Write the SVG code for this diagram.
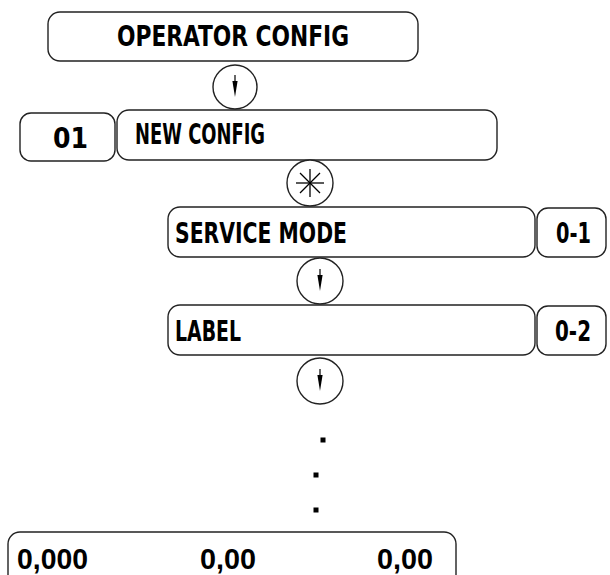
<svg xmlns="http://www.w3.org/2000/svg" width="610" height="575" viewBox="0 0 610 575">
<style>
.box{fill:#fff;stroke:#222;stroke-width:1.4}
.t{font-family:"Liberation Sans Narrow","DejaVu Sans Condensed","DejaVu Sans",sans-serif;font-stretch:condensed;font-weight:bold;font-size:28px;fill:#000}
.n{font-family:"Liberation Sans","Arial",sans-serif;font-weight:bold;font-size:30px;fill:#000}
.c{fill:#fff;stroke:#222;stroke-width:1.4}
.ast{stroke:#000;stroke-width:1.3}
</style>
<defs>
<g id="arrow">
<line x1="0" y1="-12" x2="0" y2="-5" stroke="#000" stroke-width="1.2"/>
<polygon points="-2.6,-6 2.6,-6 0,10" fill="#000"/>
</g>
</defs>
<g id="operator-config">
<rect class="box" x="48" y="12" width="370" height="49" rx="12"/>
<text class="t" x="117" y="46" textLength="232" lengthAdjust="spacingAndGlyphs">OPERATOR CONFIG</text>
</g>
<g id="num-01">
<rect class="box" x="20" y="113" width="95" height="48" rx="11"/>
<text class="t" x="53" y="148" textLength="35" lengthAdjust="spacingAndGlyphs">01</text>
</g>
<g id="new-config">
<rect class="box" x="117" y="110" width="380" height="50" rx="12"/>
<text class="t" x="135" y="144" textLength="130" lengthAdjust="spacingAndGlyphs">NEW CONFIG</text>
</g>
<g id="service-mode">
<rect class="box" x="168" y="207" width="367" height="50" rx="12"/>
<text class="t" x="175" y="243" textLength="172" lengthAdjust="spacingAndGlyphs">SERVICE MODE</text>
</g>
<g id="code-0-1">
<rect class="box" x="537" y="208" width="69" height="49" rx="11"/>
<text class="t" x="556" y="243" textLength="35" lengthAdjust="spacingAndGlyphs">0-1</text>
</g>
<g id="label">
<rect class="box" x="168" y="305" width="367" height="50" rx="12"/>
<text class="t" x="175" y="341" textLength="66" lengthAdjust="spacingAndGlyphs">LABEL</text>
</g>
<g id="code-0-2">
<rect class="box" x="537" y="306" width="69" height="49" rx="11"/>
<text class="t" x="555" y="341" textLength="36" lengthAdjust="spacingAndGlyphs">0-2</text>
</g>
<g id="display">
<rect class="box" x="8" y="532" width="448" height="70" rx="12"/>
<text class="n" x="17" y="569" textLength="71" lengthAdjust="spacingAndGlyphs">0,000</text>
<text class="n" x="200" y="569" textLength="56" lengthAdjust="spacingAndGlyphs">0,00</text>
<text class="n" x="377" y="569" textLength="56" lengthAdjust="spacingAndGlyphs">0,00</text>
</g>
<g id="connectors">
<circle class="c" cx="235" cy="87" r="22"/>
<use href="#arrow" x="235" y="87"/>
<circle class="c" cx="310" cy="183" r="23"/>
<g class="ast">
<line x1="310" y1="169" x2="310" y2="197"/>
<line x1="296" y1="183" x2="324" y2="183"/>
<line x1="300" y1="173" x2="320" y2="193"/>
<line x1="300" y1="193" x2="320" y2="173"/>
</g>
<circle class="c" cx="320" cy="281" r="23"/>
<use href="#arrow" x="320" y="281"/>
<circle class="c" cx="320" cy="381" r="23"/>
<use href="#arrow" x="320" y="381"/>
<rect x="320.5" y="437.5" width="5" height="5" fill="#000"/>
<rect x="313.5" y="472.5" width="5" height="5" fill="#000"/>
<rect x="313.5" y="507.5" width="5" height="5" fill="#000"/>
</g>
</svg>
